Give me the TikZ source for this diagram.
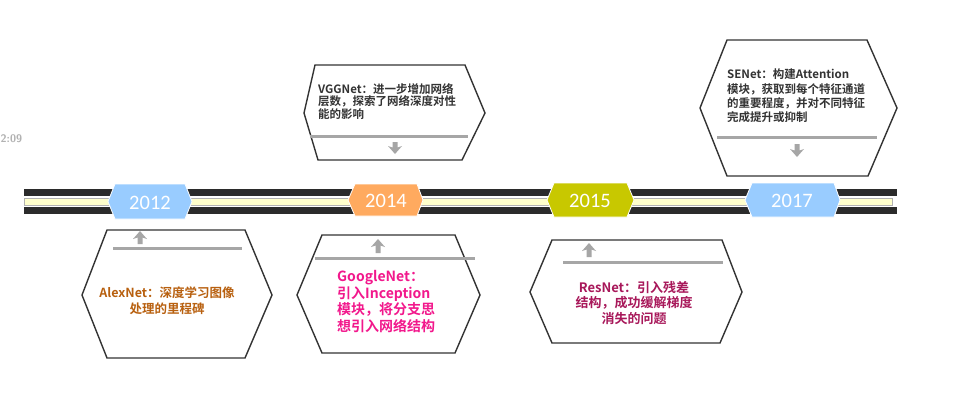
\documentclass[tikz,border=0pt]{standalone}
\usepackage{fontspec}
\setmainfont{Noto Sans CJK SC}[BoldFont={Noto Sans CJK SC Bold}]
\newfontfamily\yearfont{Carlito}
\definecolor{barc}{HTML}{2B2B2B}
\definecolor{creamc}{HTML}{FFFFCC}
\definecolor{sepc}{HTML}{A6A6A6}
\definecolor{hexc}{HTML}{333333}
\definecolor{bluec}{HTML}{99CCFF}
\definecolor{orangec}{HTML}{FFAA5F}
\definecolor{olivec}{HTML}{C8C800}
\definecolor{alexc}{HTML}{B8600F}
\definecolor{googc}{HTML}{F2188C}
\definecolor{resc}{HTML}{A8185A}
\definecolor{vggc}{HTML}{333333}
% up / down gray arrows: #1 = x centre, #2 = tip y, #3 = tail y
\newcommand\myuparrow[3]{%
  \fill[sepc] (#1-2.5,#3) -- (#1-2.5,#2+6.5) -- (#1-7,#2+8) -- (#1,#2) -- (#1+7,#2+8) -- (#1+2.5,#2+6.5) -- (#1+2.5,#3) -- cycle;}
\newcommand\mydownarrow[3]{%
  \fill[sepc] (#1-2.5,#3) -- (#1-2.5,#2-6.5) -- (#1-7,#2-8) -- (#1,#2) -- (#1+7,#2-8) -- (#1+2.5,#2-6.5) -- (#1+2.5,#3) -- cycle;}
\begin{document}
\begin{tikzpicture}[x=1pt,y=-1pt,
  hexbox/.style={draw=hexc, line width=1.4pt, fill=white, line join=miter},
  sepline/.style={draw=sepc, line width=3pt},
  yearhex/.style={draw=white, line width=0.8pt},
  yeartext/.style={font=\yearfont\fontsize{20.5}{20.5}\selectfont, text=white, inner sep=0pt}
]
\useasboundingbox (0,0) rectangle (953,413);
\fill[white] (0,0) rectangle (953,413);

% stray time stamp at left edge
\node[anchor=west, inner sep=0pt, text=black!30, font=\sffamily\bfseries\fontsize{11}{11}\selectfont] (stamp) at (0.5,139) {2:09};

% timeline
\fill[barc] (24,189) rectangle (897,196);
\filldraw[fill=creamc, draw=black!30, line width=0.6pt] (24,198) rectangle (892,205);
\fill[barc] (24,207) rectangle (897,214);

% year tags
\filldraw[yearhex, fill=bluec] (108,201.5) -- (115,184) -- (185,184) -- (192,201.5) -- (185,219) -- (115,219) -- cycle;
\node[yeartext] (y2012) at (150,203) {2012};
\filldraw[yearhex, fill=orangec] (348,200) -- (355,184) -- (417,184) -- (423,200) -- (417,216) -- (355,216) -- cycle;
\node[yeartext] (y2014) at (386,201) {2014};
\filldraw[yearhex, fill=olivec] (547,200) -- (554,183) -- (627,183) -- (634,200) -- (627,217) -- (554,217) -- cycle;
\node[yeartext] (y2015) at (590,201) {2015};
\filldraw[yearhex, fill=bluec] (745,200) -- (752,183) -- (834,183) -- (840,200) -- (834,217) -- (752,217) -- cycle;
\node[yeartext] (y2017) at (792,201) {2017};

% VGGNet box
\draw[hexbox] (315,65) -- (465,65) -- (485,113) -- (462,160) -- (318,160) -- (304,113) -- cycle;
\node[inner sep=0pt, anchor=north west, align=left, text=vggc, font=\bfseries\fontsize{11.5}{12.6}\selectfont] (vgg) at (318,83)
  {VGGNet：进一步增加网络\\层数，探索了网络深度对性\\能的影响};
\draw[sepline] (310,136) -- (468,136);
\mydownarrow{395}{154}{142}

% SENet box
\draw[hexbox] (727,40) -- (867,40) -- (897,108) -- (868,176) -- (727,176) -- (700,108) -- cycle;
\node[inner sep=0pt, anchor=north west, align=left, text=vggc, font=\bfseries\fontsize{11.5}{14.2}\selectfont] (senet) at (727,69)
  {SENet：构建Attention\\模块，获取到每个特征通道\\的重要程度，并对不同特征\\完成提升或抑制};
\draw[sepline] (717,137) -- (877,137);
\mydownarrow{797}{157}{144}

% AlexNet box
\draw[hexbox] (107,230) -- (245,230) -- (272,295) -- (245,358) -- (107,358) -- (82,295) -- cycle;
\node[inner sep=0pt, align=center, text=alexc, font=\bfseries\fontsize{12.5}{16}\selectfont] (alex) at (167,301)
  {AlexNet：深度学习图像\\处理的里程碑};
\draw[sepline] (113,248) -- (242,248);
\myuparrow{140}{231}{244}

% GoogleNet box
\draw[hexbox] (322,235) -- (455,235) -- (480,295) -- (455,353) -- (322,353) -- (297,295) -- cycle;
\node[inner sep=0pt, anchor=north west, align=left, text=googc, font=\bfseries\fontsize{14}{16.8}\selectfont] (goog) at (337,270)
  {GoogleNet：\\引入Inception\\模块，将分支思\\想引入网络结构};
\draw[sepline] (315,258) -- (475,258);
\myuparrow{378}{239}{253}

% ResNet box
\draw[hexbox] (552,240) -- (722,240) -- (742,292) -- (720,343) -- (552,343) -- (530,292) -- cycle;
\node[inner sep=0pt, align=center, text=resc, font=\bfseries\fontsize{13}{15.6}\selectfont] (res) at (634,303)
  {ResNet：引入残差\\结构，成功缓解梯度\\消失的问题};
\draw[sepline] (563,262) -- (723,262);
\myuparrow{589}{243}{257}
\end{tikzpicture}
\end{document}
